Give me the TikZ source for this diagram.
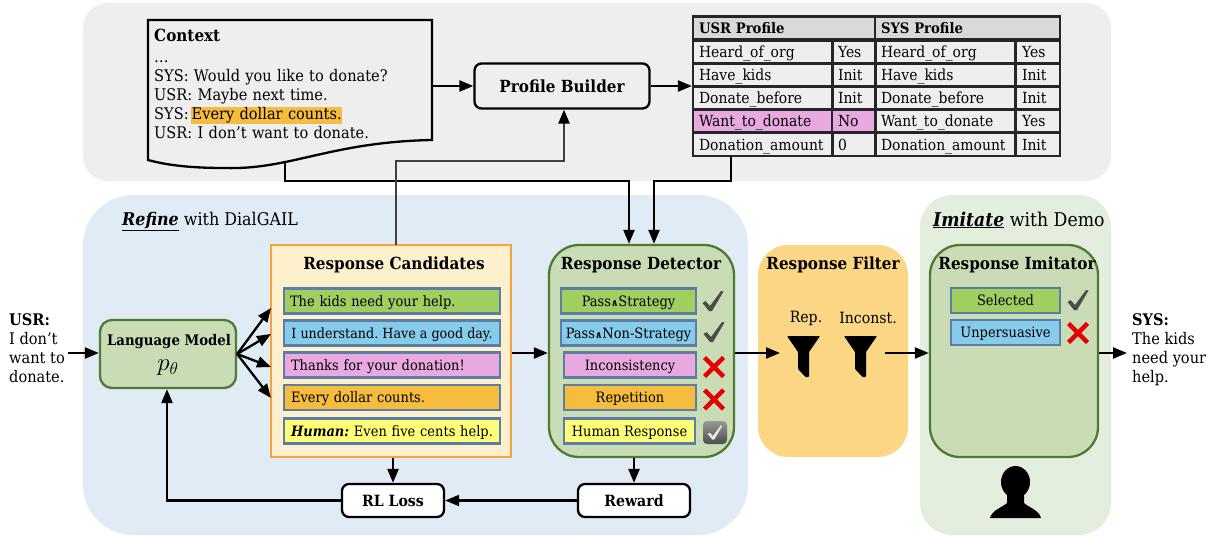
\documentclass[tikz,border=0pt]{standalone}
\usepackage{fontspec}
\setmainfont{DejaVu Serif}[FakeStretch=0.91]
\frenchspacing
\usetikzlibrary{arrows.meta, positioning}
\definecolor{panelgray}{HTML}{EEEEEE}
\definecolor{panelblue}{HTML}{E1EBF6}
\definecolor{panelorange}{HTML}{FBD684}
\definecolor{panelgreen}{HTML}{E4EEDF}
\definecolor{boxgreen}{HTML}{C9DCB6}
\definecolor{edgegreen}{HTML}{4E7A31}
\definecolor{candfill}{HTML}{FEF0CC}
\definecolor{candedge}{HTML}{F6A23C}
\definecolor{itemedge}{HTML}{5B7EA6}
\definecolor{itemgreen}{HTML}{A1CE60}
\definecolor{itemblue}{HTML}{87CBEB}
\definecolor{itempink}{HTML}{E8A8E0}
\definecolor{itemorange}{HTML}{F5BC3E}
\definecolor{itemyellow}{HTML}{FFFF77}
\definecolor{headgray}{HTML}{D9D9D9}
\newcommand{\okmark}[2]{\fill[black!70, shift={(#1,#2)}] (-10.5,2) -- (-7.5,0) -- (-3,5) -- (8,-10) -- (10.5,-9.5) -- (-1,10) -- (-4,10) -- cycle;}
\newcommand{\badmark}[2]{\draw[red!90!black, line width=4.5pt, shift={(#1,#2)}] (-9.5,-9.5) -- (9.5,9.5) (-9.5,9.5) -- (9.5,-9.5);}
\newcommand{\funnelmark}[1]{\fill[black, rounded corners=0.8pt, shift={(#1,0)}] (-16.5,336) -- (16.5,336) -- (5.5,352) -- (5.5,377) -- (2,377) -- (-5.5,369) -- (-5.5,352) -- cycle;}
\newcommand{\andmark}{{\fontsize{10}{10}\selectfont\bfseries ∧}}
\begin{document}
\begin{tikzpicture}[
        x=1pt, y=-1pt,
        arrow/.style={->, >={Triangle[length=14pt,width=11pt]}, line width=2.3pt},
        plain/.style={font=\fontsize{16}{19}\selectfont, align=left, inner sep=0pt},
        title/.style={font=\fontsize{16.7}{19}\selectfont\bfseries, inner sep=0pt},
        round/.style={rectangle, draw, line width=2.3pt, rounded corners=7pt, fill=white, font=\fontsize{15.5}{19}\selectfont\bfseries},
        green/.style={rectangle, draw=edgegreen, line width=2.3pt, fill=boxgreen, rounded corners=30pt},
        item/.style={rectangle, draw=itemedge, line width=2.4pt, minimum height=25pt, inner sep=0pt, text height=12pt, text depth=2pt, font=\fontsize{14.3}{17}\selectfont},
        keycell/.style={rectangle, draw=black!85, line width=2.2pt, minimum width=140pt, minimum height=23pt, text width=128pt, text height=13pt, text depth=1.5pt, align=left, font=\fontsize{15.3}{17}\selectfont, inner sep=0pt, inner xsep=6pt},
        valcell/.style={keycell, minimum width=42pt, text width=32pt},
        headcell/.style={keycell, fill=headgray, minimum width=182pt, text width=170pt, font=\fontsize{14.5}{17}\selectfont\bfseries}
    ]
        \useasboundingbox (0,0) rectangle (1217,535);
        % Panels
        \fill[panelgray, rounded corners=25pt] (83,3) rectangle (1111,181);
        \fill[panelblue, rounded corners=50pt] (83,195) rectangle (748,535);
        \fill[panelorange, rounded corners=30pt] (758,245) rectangle (908,457);
        \fill[panelgreen, rounded corners=32pt] (920,195) rectangle (1111,535);
        \node[plain, anchor=base west, font=\fontsize{17.5}{20}\selectfont] (refinelabel) at (122,225) {\underline{\textbf{\textit{Refine}}} with DialGAIL};
        \node[plain, anchor=base west, font=\fontsize{19}{20}\selectfont] (imitatelabel) at (933,226) {\underline{\textbf{\textit{Imitate}}} with Demo};

        % Context and profile
        \draw[line width=2.3pt, line join=miter] (148,20) -- (432,20) -- (432,140) .. controls (330,142) and (290,170) .. (225,168) .. controls (195,168) and (170,166) .. (148,160) -- cycle;
        \node[plain, anchor=north west, minimum width=284pt, minimum height=128pt, text width=272pt, inner xsep=6pt] (context) at (148,20) {{\fontsize{16.7}{19}\selectfont\bfseries Context}\\[2pt]…\\SYS: Would you like to donate?\\USR: Maybe next time.\\SYS:\hspace{2.5pt}{\setlength{\fboxsep}{0.5pt}\colorbox{itemorange}{Every dollar counts.}}\\USR: I don’t want to donate.};
        \node[round, fill=panelgray, minimum width=175pt, minimum height=45pt, font=\fontsize{16.7}{19}\selectfont\bfseries] (builder) at (562,86) {Profile Builder};

        % Profile table
        \node[headcell] (usrhead) at (784,28) {USR Profile};
        \node[headcell, minimum width=185pt, text width=173pt] (syshead) at (967.5,28) {SYS Profile};
        \node[keycell] (usr1) at (763,52) {Heard\_of\_org};
        \node[valcell] (usrv1) at (854,52) {Yes};
        \node[keycell] (sys1) at (945,52) {Heard\_of\_org};
        \node[valcell] (sysv1) at (1038,52) {Yes};
        \node[keycell] (usr2) at (763,75) {Have\_kids};
        \node[valcell] (usrv2) at (854,75) {Init};
        \node[keycell] (sys2) at (945,75) {Have\_kids};
        \node[valcell] (sysv2) at (1038,75) {Init};
        \node[keycell] (usr3) at (763,98) {Donate\_before};
        \node[valcell] (usrv3) at (854,98) {Init};
        \node[keycell] (sys3) at (945,98) {Donate\_before};
        \node[valcell] (sysv3) at (1038,98) {Init};
        \node[keycell, fill=itempink] (usr4) at (763,121) {Want\_to\_donate};
        \node[valcell, fill=itempink] (usrv4) at (854,121) {No};
        \node[keycell] (sys4) at (945,121) {Want\_to\_donate};
        \node[valcell] (sysv4) at (1038,121) {Yes};
        \node[keycell] (usr5) at (763,144.5) {Donation\_amount};
        \node[valcell] (usrv5) at (854,144.5) {0};
        \node[keycell] (sys5) at (945,144.5) {Donation\_amount};
        \node[valcell] (sysv5) at (1038,144.5) {Init};

        % Input and language model
        \node[plain, anchor=north west] (usrtext) at (9,313) {\textbf{USR:}\\I don’t\\want to\\donate.};
        \node[green, rounded corners=12pt, minimum width=136pt, minimum height=68pt] (langmodel) at (168,354) {};
        \node[plain, font=\fontsize{14.6}{19}\selectfont\bfseries] (langtitle) at (169,342) {Language Model};
        \node[plain, font=\fontsize{24}{24}\selectfont] (langtheta) at (168,368) {$p_\theta$};

        % Response candidates
        \node[rectangle, draw=candedge, line width=2.3pt, fill=candfill, minimum width=240pt, minimum height=212pt] (candidates) at (391,351) {};
        \node[title] (candtitle) at (394,265) {Response Candidates};
        \node[item, fill=itemgreen, minimum width=216pt, text width=204pt, align=left] (cand1) at (392,301) {The kids need your help.};
        \node[item, fill=itemblue, minimum width=216pt, font=\fontsize{14}{17}\selectfont] (cand2) at (392,333) {I understand. Have a good day.};
        \node[item, fill=itempink, minimum width=216pt, text width=202pt, align=left] (cand3) at (392,365) {Thanks for your donation!};
        \node[item, fill=itemorange, minimum width=216pt, text width=202pt, align=left] (cand4) at (392,397.5) {Every dollar counts.};
        \node[item, fill=itemyellow, minimum width=216pt, text width=202pt, align=left] (cand5) at (392,431) {\textbf{\textit{Human:}} Even five cents help.};

        % Response detector
        \node[green, minimum width=185pt, minimum height=212pt] (detector) at (641.5,351) {};
        \node[title] (dettitle) at (641,265) {Response Detector};
        \node[item, fill=itemgreen, minimum width=135pt] (det1) at (628.5,301) {Pass\andmark Strategy};
        \node[item, fill=itemblue, minimum width=135pt] (det2) at (628.5,333) {Pass\andmark Non-Strategy};
        \node[item, fill=itempink, minimum width=132pt] (det3) at (630,365) {Inconsistency};
        \node[item, fill=itemorange, minimum width=132pt] (det4) at (630,397.5) {Repetition};
        \node[item, fill=itemyellow, minimum width=131pt] (det5) at (629.5,431) {Human Response};
        \okmark{713}{301}
        \okmark{714}{332}
        \badmark{714}{367}
        \badmark{714}{399.5}
        \shade[top color=black!40, bottom color=black!70, rounded corners=4pt] (703,421) rectangle (727,444);
        \fill[black!10, shift={(715,432.5)}, scale=0.7] (-10.5,2) -- (-7.5,0) -- (-3,5) -- (8,-10) -- (10.5,-9.5) -- (-1,10) -- (-4,10) -- cycle;

        % Response filter
        \node[title] (filtertitle) at (833,265) {Response Filter};
        \node[plain, font=\fontsize{15.5}{17}\selectfont] (replabel) at (806,318) {Rep.};
        \node[plain, font=\fontsize{15.5}{17}\selectfont] (inclabel) at (868,318) {Inconst.};
        \funnelmark{803.5}
        \funnelmark{860.5}
        \coordinate (filterin) at (780,353);
        \coordinate (filterout) at (885,353);

        % Response imitator
        \node[green, minimum width=168pt, minimum height=212pt] (imitator) at (1014,351) {};
        \node[title] (imititle) at (1017,265) {Response Imitator};
        \node[item, fill=itemgreen, minimum width=109pt] (imit1) at (1005.5,300.5) {Selected};
        \node[item, fill=itemblue, minimum width=109pt] (imit2) at (1005.5,332.5) {Unpersuasive};
        \okmark{1078}{300}
        \badmark{1078}{333}
        \fill[black] (1015.5,482) ellipse [x radius=14.5, y radius=16];
        \fill[black] (1007,494) -- (1007,503) .. controls (1003,507) and (992,510) .. (990,518) -- (1041,518) .. controls (1039,510) and (1028,507) .. (1024,503) -- (1024,494) -- cycle;

        % Output
        \node[plain, anchor=north west] (systext) at (1132,313) {\textbf{SYS:}\\The kids\\need your\\help.};

        % Loss nodes
        \node[round, minimum width=102pt, minimum height=33pt] (rlloss) at (393,500.5) {RL Loss};
        \node[round, minimum width=112pt, minimum height=33pt] (reward) at (634,500.5) {Reward};

        % Free ends of the connectors
        \coordinate (usrout) at (68,353);
        \coordinate (ctxout) at (285,163);
        \coordinate (ctxbend) at (629,181);
        \coordinate (tabout) at (731,156);
        \coordinate (tabbend) at (654,181);
        \coordinate (candout) at (396,245);
        \coordinate (candbend) at (564,161);
        \coordinate (fan1) at (271,308);
        \coordinate (fan2) at (271,334);
        \coordinate (fan3) at (271,367);
        \coordinate (fan4) at (271,398);
        \coordinate (sysin) at (1127,353);
        \coordinate (lossbend) at (167,500.5);

        % Connections
        \draw[arrow] (usrout) -- (usrout -| langmodel.west);
        \draw[arrow] (context.east |- builder) -- (builder);
        \draw[arrow] (builder) -- (builder -| usr3.west);
        \draw[arrow] (ctxout) |- (ctxbend) -- (ctxbend |- detector.north);
        \draw[arrow] (tabout) |- (tabbend) -- (tabbend |- detector.north);
        \draw[arrow] (langmodel.east) -- (fan1);
        \draw[arrow] (langmodel.east) -- (fan2);
        \draw[arrow] (langmodel.east) -- (fan3);
        \draw[arrow] (langmodel.east) -- (fan4);
        \draw[arrow] (candidates.east |- usrout) -- (detector.west |- usrout);
        \draw[arrow] (detector.east |- usrout) -- (filterin);
        \draw[arrow] (filterout) -- (imitator.west |- filterout);
        \draw[arrow] (imitator.east |- usrout) -- (sysin);
        \draw[arrow] (candidates.south -| rlloss) -- (rlloss);
        \draw[arrow] (detector.south -| reward) -- (reward);
        \draw[arrow] (reward) -- (rlloss);
        \draw[arrow] (rlloss) -- (lossbend) -- (lossbend |- langmodel.south);
        \draw[arrow, draw=black!75, >={Triangle[length=14pt,width=11pt,color=black]}] (candout) |- (candbend) -- (candbend |- builder.south);
    \end{tikzpicture}
\end{document}
